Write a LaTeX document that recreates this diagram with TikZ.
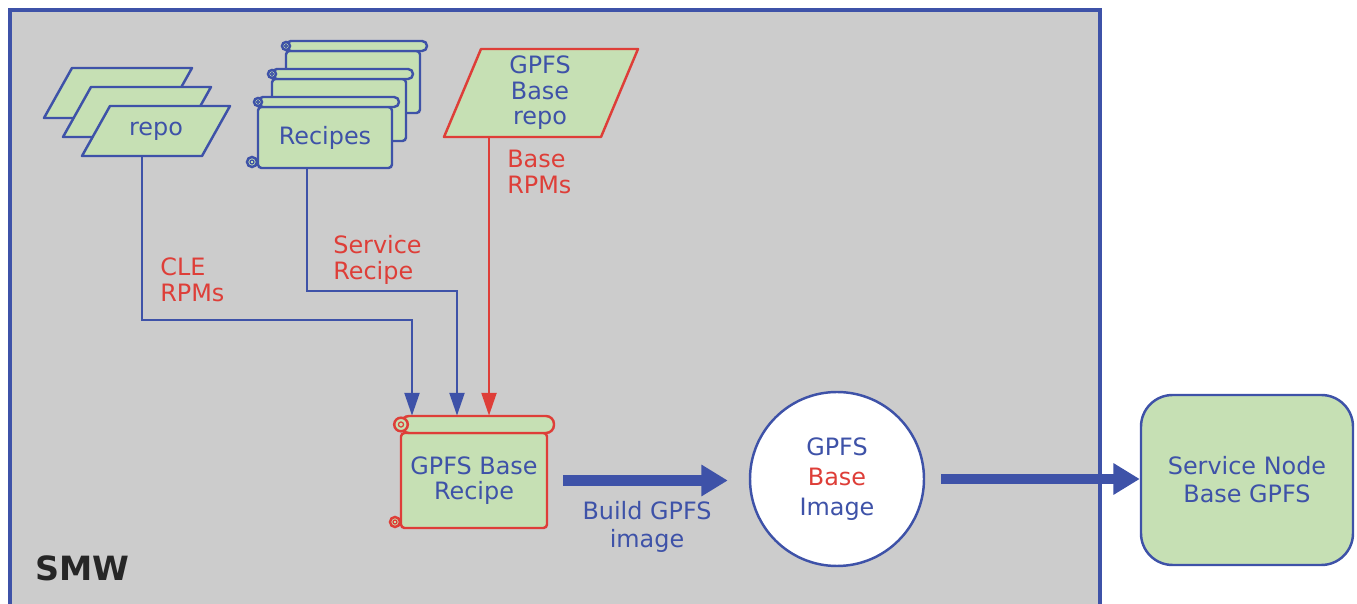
\documentclass[tikz,border=0pt]{standalone}
\usepackage{fontspec}
\setmainfont{DejaVu Sans}
\usetikzlibrary{arrows.meta, positioning}

\definecolor{smwgray}{RGB}{204,204,204}
\definecolor{leaf}{RGB}{198,224,180}
\definecolor{navy}{RGB}{62,82,168}
\definecolor{brick}{RGB}{222,62,56}

% parallelogram: bottom-left x, y, width, height, slant, colour
\newcommand{\slab}[6]{%
  \filldraw[draw=#6, fill=leaf, line width=1.4pt, line join=round]
    (#1,#2) -- ++(#3,0) -- ++(#5,-#4) -- ++(-#3,0) -- cycle;}

% scroll: top-left x, y, body width, height, bar height, colour, bar radius
\newcommand{\scrollbox}[7]{%
  \begin{scope}[shift={(#1,#2)}, draw=#6, fill=leaf, line width=1.4pt]
    \filldraw[rounded corners=2pt] (0,#5) rectangle (#3,#4);
    \filldraw (-6,#4-6) circle[radius=5];
    \draw[line width=0.7pt] (-6,#4-6) circle[radius=2];
    \filldraw[rounded corners=#7] (0,0) rectangle (#3+7,#5);
    \filldraw (0,#5/2) circle[radius=#5*0.4];
    \draw[line width=0.7pt] (0,#5/2) circle[radius=#5*0.15];
  \end{scope}}

\begin{document}
\begin{tikzpicture}[x=0.02cm, y=-0.02cm,
    every node/.style={font=\fontsize{13.6}{14.5}\selectfont, align=center, text=navy},
    lbl/.style={text=brick, align=left, anchor=west, inner sep=0pt},
    flow/.style={draw=navy, line width=1.4pt, -{Triangle[length=13pt, width=8.5pt]}},
    redflow/.style={flow, draw=brick},
    bigflow/.style={draw=navy, line width=6.2pt, -{Triangle[length=15pt, width=17pt]}}
  ]
  \useasboundingbox (0,0) rectangle (1357,604);

  % SMW area
  \filldraw[fill=smwgray, draw=navy, line width=2.3pt] (10,10) rectangle (1100,615);
  \node[font=\bfseries\fontsize{19}{22}\selectfont, text=black!85, anchor=west] (smw) at (29,568) {SMW};

  % repositories
  \slab{44}{118}{120}{50}{28}{navy}
  \slab{63}{137}{120}{50}{28}{navy}
  \slab{82}{156}{120}{50}{28}{navy}
  \node[minimum height=50*0.02cm, inner sep=0pt] (repo) at (156,131) {repo};

  \slab{444}{137}{157}{88}{37}{brick}
  \node[minimum height=88*0.02cm, inner sep=0pt] (baserepo) at (540,93) {GPFS\\Base\\repo};

  % recipes
  \scrollbox{286}{41}{134}{72}{10}{navy}{2.8pt}
  \scrollbox{272}{69}{134}{72}{10}{navy}{2.8pt}
  \scrollbox{258}{97}{134}{71}{10}{navy}{2.8pt}
  \node[minimum height=61*0.02cm, inner sep=0pt] (recipes) at (325,138) {Recipes};

  \scrollbox{401}{416}{146}{112}{17}{brick}{4.6pt}
  \node[minimum width=146*0.02cm, minimum height=95*0.02cm, inner sep=0pt] (gbrecipe) at (474,480.5) {GPFS Base\\Recipe};
  \coordinate (rtop) at ([yshift=0.34cm]gbrecipe.north);

  % image and service node
  \node[circle, draw=navy, fill=white, line width=1.4pt, minimum size=174*0.02cm,
        font=\fontsize{13.6}{17}\selectfont] (image) at (837,479) {GPFS\\\textcolor{brick}{Base}\\Image};
  \node[draw=navy, fill=leaf, line width=1.4pt, rounded corners=18pt,
        minimum width=212*0.02cm, minimum height=170*0.02cm,
        font=\fontsize{13.6}{16}\selectfont] (snode) at (1247,480) {Service Node\\Base GPFS};

  % labels
  \node[lbl] (clelbl) at (160,280) {CLE\\RPMs};
  \node[lbl] (svclbl) at (333,260) {Service\\Recipe};
  \node[lbl] (baselbl) at (507,172) {Base\\RPMs};
  \node[font=\fontsize{13.6}{16.4}\selectfont] (buildlbl) at (647,527) {Build GPFS\\image};

  % connectors
  \coordinate (cle) at (412,320);
  \coordinate (svc) at (457,291);
  \draw[flow] ([xshift=-0.28cm]repo.south) |- (cle) -- (cle |- rtop);
  \draw[flow] ([xshift=-0.36cm]recipes.south) |- (svc) -- (svc |- rtop);
  \draw[redflow] ([xshift=-1.02cm]baserepo.south) coordinate (rb) -- (rb |- rtop);

  \draw[bigflow, shorten <=0.32cm, shorten >=0.42cm] (gbrecipe.east) -- (gbrecipe.east -| image.west);
  \draw[bigflow, shorten <=0.32cm] (image.east) -- (image.east -| snode.west);
\end{tikzpicture}
\end{document}
